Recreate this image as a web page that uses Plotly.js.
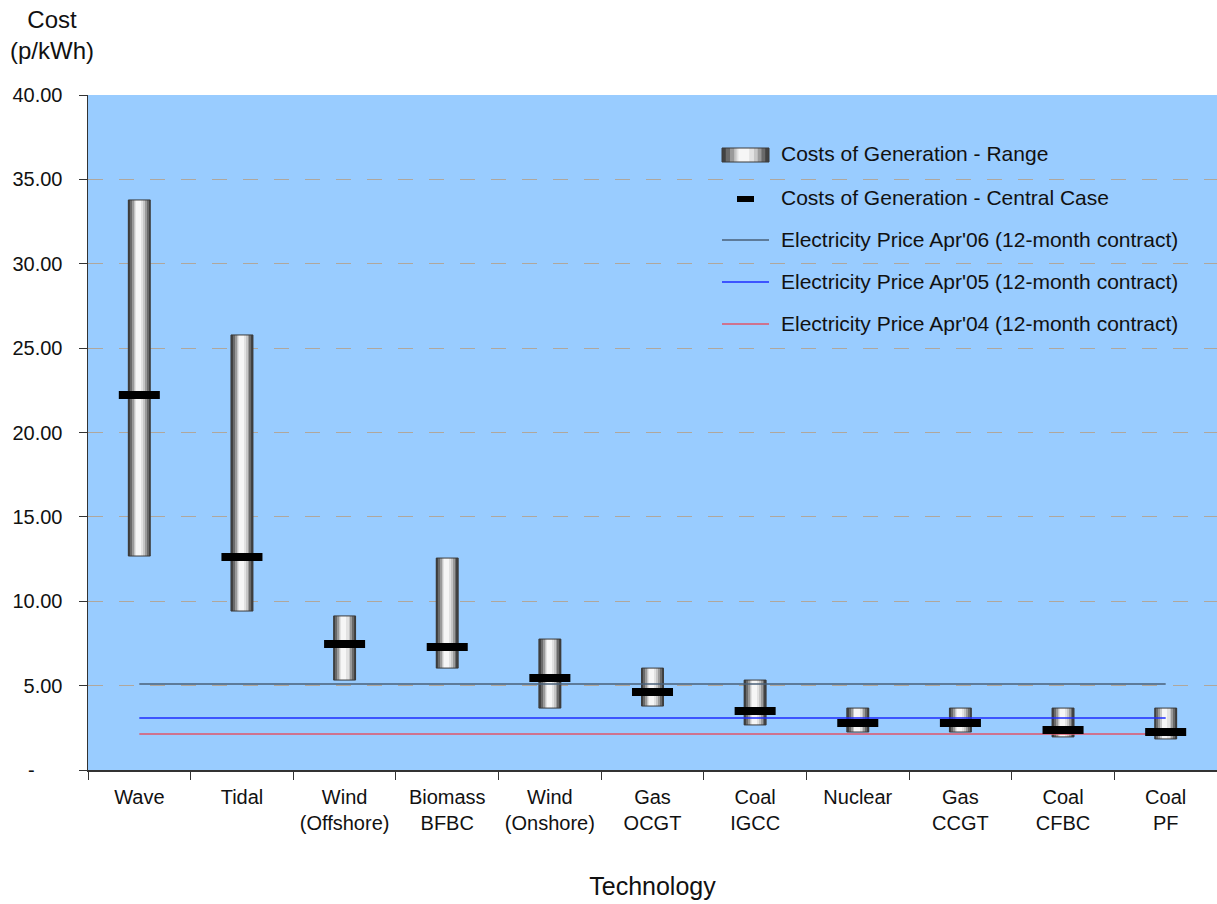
<!DOCTYPE html>
<html>
<head>
<meta charset="utf-8">
<script src="https://cdn.plot.ly/plotly-3.0.1.min.js"></script>
<style>
  html, body { margin: 0; padding: 0; background: #ffffff; }
  #chart { width: 1217px; height: 904px; }
</style>
</head>
<body>
<div id="chart"></div>
<script>
// ---------------- data ----------------
const categories = ['Wave', 'Tidal', 'Wind<br>(Offshore)', 'Biomass<br>BFBC', 'Wind<br>(Onshore)',
  'Gas<br>OCGT', 'Coal<br>IGCC', 'Nuclear', 'Gas<br>CCGT', 'Coal<br>CFBC', 'Coal<br>PF'];
const rangeLow  = [12.68, 9.42, 5.33, 6.04, 3.67, 3.79, 2.67, 2.25, 2.25, 1.96, 1.84];
const rangeHigh = [33.78, 25.78, 9.13, 12.56, 7.76, 6.04, 5.33, 3.67, 3.67, 3.67, 3.67];
const centralCase = [22.22, 12.62, 7.47, 7.29, 5.45, 4.62, 3.50, 2.79, 2.79, 2.37, 2.25];
const priceApr06 = 5.10;
const priceApr05 = 3.08;
const priceApr04 = 2.13;
const yTickVals = [0, 5, 10, 15, 20, 25, 30, 35, 40];
const yTickText = ['-\u00a0\u00a0\u00a0\u00a0\u00a0', '5.00', '10.00', '15.00', '20.00', '25.00', '30.00', '35.00', '40.00'];
const legendLabels = ['Costs of Generation - Range', 'Costs of Generation - Central Case',
  "Electricity Price Apr'06 (12-month contract)", "Electricity Price Apr'05 (12-month contract)",
  "Electricity Price Apr'04 (12-month contract)"];

// ---------------- styles ----------------
const FONT = 'Liberation Sans, Arial, sans-serif';
const BAR_W = 0.214;
const cylinderStops = [
  [0.00, 1.00, '#424242'],
  [0.08, 0.92, '#6a6a6a'],
  [0.17, 0.84, '#9a9a9a'],
  [0.26, 0.76, '#c6c6c6'],
  [0.31, 0.68, '#e2e2e2'],
  [0.35, 0.58, '#f6f6f6']
];
const COL06 = '#4a6078', COL05 = '#1f2cff', COL04 = '#e0566a';

const heights = rangeHigh.map((h, i) => h - rangeLow[i]);
const traces = [];
cylinderStops.forEach(([a, b, c]) => {
  traces.push({
    type: 'bar', x: categories, y: heights, base: rangeLow,
    width: (b - a) * BAR_W, offset: -BAR_W / 2 + a * BAR_W,
    marker: {color: c, line: {width: 0}},
    showlegend: false, hoverinfo: 'skip'
  });
});
traces.push({
  type: 'bar', x: categories, y: heights, base: rangeLow,
  width: BAR_W, offset: -BAR_W / 2,
  marker: {color: 'rgba(0,0,0,0)', line: {width: 1, color: '#3a3a3a'}},
  name: legendLabels[0], showlegend: false
});
[[priceApr06, COL06, 3], [priceApr05, COL05, 4], [priceApr04, COL04, 5]].forEach(([p, c, k]) => {
  traces.push({
    type: 'scatter', mode: 'lines', x: categories, y: categories.map(() => p),
    line: {color: c, width: 1.5}, name: legendLabels[k - 1], showlegend: false
  });
});
traces.push({
  type: 'scatter', mode: 'markers', x: categories, y: centralCase,
  marker: {symbol: 'line-ew', size: 29.3, color: '#000', line: {width: 8, color: '#000'}},
  name: legendLabels[1], showlegend: false
});

// ---------------- manual legend (pixel -> paper helpers) ----------------
const L = 88, R = 1217, T = 95, B = 770;
const px = v => (v - L) / (R - L);
const py = v => (B - v) / (B - T);
const shapes = [];
const annotations = [];
cylinderStops.forEach(([a, b, c]) => {
  shapes.push({type: 'rect', xref: 'paper', yref: 'paper',
    x0: px(722 + a * 47), x1: px(722 + b * 47), y0: py(148), y1: py(162),
    fillcolor: c, line: {width: 0}});
});
shapes.push({type: 'rect', xref: 'paper', yref: 'paper', x0: px(722), x1: px(769), y0: py(148), y1: py(162),
  fillcolor: 'rgba(0,0,0,0)', line: {width: 1, color: '#3a3a3a'}});
shapes.push({type: 'rect', xref: 'paper', yref: 'paper', x0: px(737), x1: px(754), y0: py(196), y1: py(202),
  fillcolor: '#000', line: {width: 0}});
[[240, COL06], [282, COL05], [324, COL04]].forEach(([y, c]) => {
  shapes.push({type: 'line', xref: 'paper', yref: 'paper', x0: px(722), x1: px(769), y0: py(y), y1: py(y),
    line: {color: c, width: 1.3}});
});
[154, 197, 239, 281, 323].forEach((y, i) => {
  annotations.push({xref: 'paper', yref: 'paper', x: px(779), y: py(y), xanchor: 'left', yanchor: 'middle',
    text: legendLabels[i], showarrow: false, font: {family: FONT, size: 21, color: '#111'}});
});
annotations.push({xref: 'paper', yref: 'paper', x: px(52), y: py(35), xanchor: 'center', yanchor: 'middle',
  text: 'Cost<br>(p/kWh)', showarrow: false, font: {family: FONT, size: 24, color: '#111'}});

const layout = {
  width: 1217, height: 904,
  margin: {l: L, r: 1217 - R, t: T, b: 904 - B, pad: 0},
  paper_bgcolor: '#ffffff', plot_bgcolor: '#99ccff',
  barmode: 'overlay', bargap: 0,
  font: {family: FONT, size: 20, color: '#111'},
  showlegend: false,
  xaxis: {
    type: 'category', range: [-0.5, 10.5], tickson: 'boundaries',
    ticks: 'outside', ticklen: 8, tickcolor: '#333', tickwidth: 1,
    showline: true, linecolor: '#333', linewidth: 1.5, showgrid: false,
    tickfont: {family: FONT, size: 20, color: '#111'}, ticklabelstandoff: 8,
    title: {text: 'Technology', font: {family: FONT, size: 25, color: '#111'}, standoff: 45},
    fixedrange: true
  },
  yaxis: {
    range: [0, 40], tickvals: yTickVals, ticktext: yTickText,
    ticks: 'outside', ticklen: 8, tickcolor: '#333', tickwidth: 1,
    showline: true, linecolor: '#333', linewidth: 1.5,
    showgrid: true, gridcolor: '#b0a79c', gridwidth: 1, griddash: '15px,16px',
    zeroline: false, ticklabelstandoff: 12,
    tickfont: {family: FONT, size: 20, color: '#111'},
    fixedrange: true
  },
  shapes: shapes,
  annotations: annotations
};

Plotly.newPlot('chart', traces, layout, {displayModeBar: false, staticPlot: true});
</script>
</body>
</html>
